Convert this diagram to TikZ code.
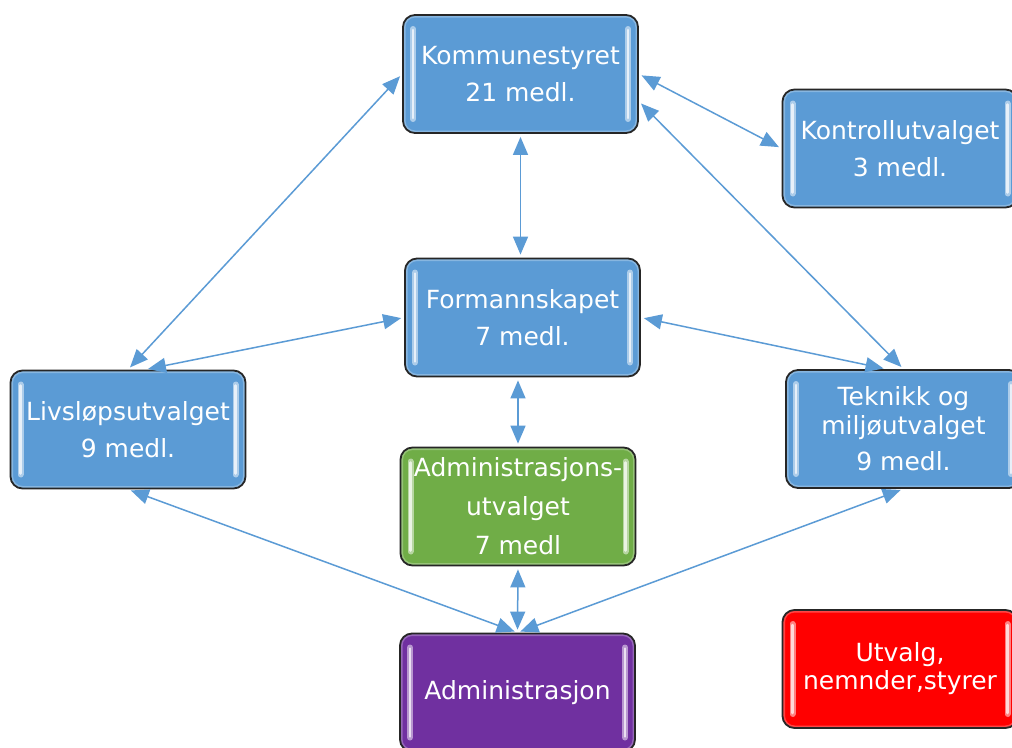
\documentclass[tikz,border=0pt]{standalone}
\usepackage{fontspec}
\setmainfont{DejaVu Sans}
\usetikzlibrary{arrows.meta,calc}
\definecolor{blaa}{HTML}{5B9BD5}
\definecolor{groenn}{HTML}{70AD47}
\definecolor{lilla}{HTML}{7030A0}
\definecolor{roed}{HTML}{FF0000}
\definecolor{pilfarge}{HTML}{5B9BD5}
\begin{document}
\begin{tikzpicture}[x=1pt,y=-1pt,
    enhet/.style={draw=black!85,line width=1.8pt,rounded corners=12pt,fill=#1,
      minimum width=235pt,minimum height=118pt,inner sep=0pt,align=center,text=white,
      font=\fontsize{25}{37}\selectfont,
      path picture={
        \draw[#1!55!white,line width=5pt,opacity=.6]
          (path picture bounding box.north west) rectangle (path picture bounding box.south east);
        \draw[#1!50!white,line width=6pt,line cap=round]
          ([xshift=10pt,yshift=-14pt]path picture bounding box.north west)--([xshift=10pt,yshift=14pt]path picture bounding box.south west)
          ([xshift=-10pt,yshift=-14pt]path picture bounding box.north east)--([xshift=-10pt,yshift=14pt]path picture bounding box.south east);
        \draw[#1!15!white,line width=2.5pt,line cap=round]
          ([xshift=10pt,yshift=-15pt]path picture bounding box.north west)--([xshift=10pt,yshift=15pt]path picture bounding box.south west)
          ([xshift=-10pt,yshift=-15pt]path picture bounding box.north east)--([xshift=-10pt,yshift=15pt]path picture bounding box.south east);}},
    pil/.style={pilfarge,line width=1.5pt,{Triangle[length=18pt,width=15pt]}-{Triangle[length=18pt,width=15pt]},
      shorten <=3pt,shorten >=3pt}]
      \path[use as bounding box,fill=white](0,0) rectangle (1012,747);
      \clip(0,0) rectangle (1012,747);
      \node[enhet=blaa](KS) at (520.5,74) {Kommunestyret\\21 medl.};
      \node[enhet=blaa](KU) at (900,148.5) {Kontrollutvalget\\3 medl.};
      \node[enhet=blaa](FS) at (522.5,317.5) {Formannskapet\\7 medl.};
      \node[enhet=blaa](LU) at (128,429.5) {Livsløpsutvalget\\9 medl.};
      \node[enhet=blaa,font=\fontsize{25}{29}\selectfont](TM) at (903.5,429) {Teknikk og\\miljøutvalget\\[7pt]9 medl.};
      \node[enhet=groenn,font=\fontsize{25}{39}\selectfont](AU) at (518,506.5) {Administrasjons-\\utvalget\\7 medl};
      \node[enhet=lilla](ADM) at (517.5,692.5) {Administrasjon};
      \node[enhet=roed,font=\fontsize{25}{28}\selectfont](UNS) at (900,669) {Utvalg,\\nemnder,styrer};
      \draw[pil](KS.south)--(KS.south|-FS.north);
      \draw[pil](KS.east)--(KU.west);
      \draw[pil](KS.-13)--(TM.north);
      \draw[pil](KS.west)--(LU.north);
      \draw[pil](FS.west)--($(LU.north)+(17,0)$);
      \draw[pil](FS.east)--($(TM.north)+(-17,0)$);
      \draw[pil](AU.north|-FS.south)--(AU.north);
      \draw[pil](AU.south)--(ADM.north);
      \draw[pil](LU.south)--(ADM.north);
      \draw[pil](TM.south)--(ADM.north);
    \end{tikzpicture}
\end{document}
